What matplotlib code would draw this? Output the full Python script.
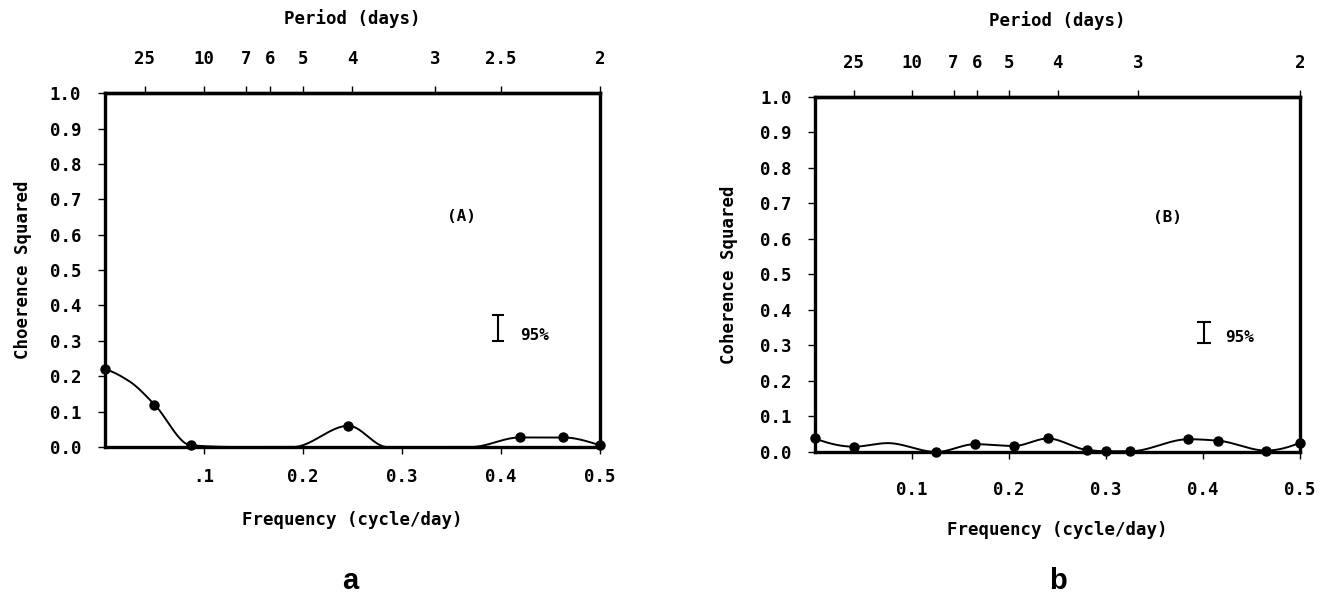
import matplotlib.pyplot as plt
import numpy as np

# -------------------------- data --------------------------
# (A): coherence estimates marked with dots
freq_a = [0.0, 0.05, 0.0865, 0.246, 0.419, 0.463, 0.5]
coh_a = [0.22, 0.12, 0.005, 0.06, 0.027, 0.027, 0.005]
# unmarked knots of the smoothed curve
knot_freq_a = [0.025, 0.13, 0.19, 0.285, 0.33, 0.37]
knot_coh_a = [0.185, 0.0, 0.0, 0.0, 0.0, 0.0]

# (B)
freq_b = [0.0, 0.04, 0.125, 0.165, 0.205, 0.24, 0.28, 0.30, 0.325,
          0.385, 0.415, 0.465, 0.5]
coh_b = [0.038, 0.015, 0.0, 0.022, 0.017, 0.038, 0.006, 0.002, 0.002,
         0.036, 0.032, 0.004, 0.026]
knot_freq_b = [0.075]
knot_coh_b = [0.025]

# 95% confidence bar (x, low, high)
ci_a = (0.397, 0.300, 0.372)
ci_b = (0.401, 0.308, 0.367)

periods_a = [25, 10, 7, 6, 5, 4, 3, 2.5, 2]
periods_b = [25, 10, 7, 6, 5, 4, 3, 2]
yticks = [0.0, 0.1, 0.2, 0.3, 0.4, 0.5, 0.6, 0.7, 0.8, 0.9, 1.0]
xticks = [0.1, 0.2, 0.3, 0.4, 0.5]
xlabels_a = ['.1', '0.2', '0.3', '0.4', '0.5']
xlabels_b = ['0.1', '0.2', '0.3', '0.4', '0.5']

MONO = 'DejaVu Sans Mono'
FS = 12.5


def _end_slope(h0, h1, d0, d1):
    d = ((2 * h0 + h1) * d0 - h0 * d1) / (h0 + h1)
    if np.sign(d) != np.sign(d0):
        return 0.0
    if np.sign(d0) != np.sign(d1) and abs(d) > abs(3 * d0):
        return 3 * d0
    return d


def pchip(x, y, xs):
    """shape preserving cubic through the knots"""
    x = np.asarray(x, float)
    y = np.asarray(y, float)
    h = np.diff(x)
    delta = np.diff(y) / h
    m = np.zeros_like(y)
    for k in range(1, len(x) - 1):
        if delta[k - 1] * delta[k] > 0:
            w1 = 2 * h[k] + h[k - 1]
            w2 = h[k] + 2 * h[k - 1]
            m[k] = (w1 + w2) / (w1 / delta[k - 1] + w2 / delta[k])
    m[0] = _end_slope(h[0], h[1], delta[0], delta[1])
    m[-1] = _end_slope(h[-1], h[-2], delta[-1], delta[-2])
    i = np.clip(np.searchsorted(x, xs) - 1, 0, len(x) - 2)
    t = (xs - x[i]) / h[i]
    return ((2 * t**3 - 3 * t**2 + 1) * y[i] + (t**3 - 2 * t**2 + t) * h[i] * m[i]
            + (-2 * t**3 + 3 * t**2) * y[i + 1] + (t**3 - t**2) * h[i] * m[i + 1])


def draw_panel(ax, f, c, kf, kc, ci, periods, xlabels, ylabel, tag, tag_xy,
               top_pad, title_pad, bottom_pad, xlabel_pad, ylabel_pad, cap):
    nodes = sorted(zip(list(f) + list(kf), list(c) + list(kc)))
    nx = np.array([n[0] for n in nodes])
    ny = np.array([n[1] for n in nodes])
    xs = np.linspace(0, 0.5, 600)
    ax.plot(xs, np.clip(pchip(nx, ny, xs), 0, None), color='black', lw=1.4,
            clip_on=False, zorder=3)
    ax.plot(f, c, 'o', color='black', ms=6.5, clip_on=False, zorder=4)

    ax.errorbar([ci[0]], [(ci[1] + ci[2]) / 2], yerr=[(ci[2] - ci[1]) / 2],
                color='black', lw=1.5, capsize=cap, capthick=1.5)
    ax.text(ci[0] + 0.022, ci[1] + 0.015, '95%', family=MONO, fontsize=FS - 1,
            fontweight='bold', va='center', ha='left')
    ax.text(tag_xy[0], tag_xy[1], tag, family=MONO, fontsize=FS - 1,
            fontweight='bold', ha='center', va='center')

    ax.set_xlim(0, 0.5)
    ax.set_ylim(0, 1.0)
    ax.set_xticks(xticks)
    ax.set_xticklabels(xlabels)
    ax.set_yticks(yticks)
    ax.set_yticklabels([f'{v:.1f}' for v in yticks])
    for sp in ax.spines.values():
        sp.set_linewidth(2.4)
    ax.tick_params(axis='both', length=5, width=1.0, labelsize=FS)
    ax.tick_params(axis='x', pad=bottom_pad)
    ax.tick_params(axis='y', pad=12)
    for lab in ax.get_xticklabels() + ax.get_yticklabels():
        lab.set_family(MONO)
        lab.set_fontweight('bold')
    ax.set_ylabel(ylabel, family=MONO, fontsize=FS, fontweight='bold',
                  labelpad=ylabel_pad)
    ax.set_xlabel('Frequency (cycle/day)', family=MONO, fontsize=FS,
                  fontweight='bold', labelpad=xlabel_pad)

    top = ax.secondary_xaxis('top')
    top.set_xticks([1.0 / p for p in periods])
    top.set_xticklabels([f'{p:g}' for p in periods], family=MONO, fontsize=FS,
                        fontweight='bold')
    top.tick_params(length=5, width=1.0, pad=top_pad)
    top.spines['top'].set_linewidth(2.4)
    top.set_xlabel('Period (days)', family=MONO, fontsize=FS, fontweight='bold',
                   labelpad=title_pad)


fig = plt.figure(figsize=(13.32, 6.08), dpi=100)
ax_a = fig.add_axes([0.0788, 0.2648, 0.3716, 0.582])
ax_b = fig.add_axes([0.6119, 0.2566, 0.3641, 0.584])

draw_panel(ax_a, freq_a, coh_a, knot_freq_a, knot_coh_a, ci_a, periods_a,
           xlabels_a, 'Choerence Squared', '(A)', (0.36, 0.65),
           top_pad=13, title_pad=19, bottom_pad=10, xlabel_pad=18,
           ylabel_pad=13, cap=4)
draw_panel(ax_b, freq_b, coh_b, knot_freq_b, knot_coh_b, ci_b, periods_b,
           xlabels_b, 'Coherence Squared', '(B)', (0.363, 0.66),
           top_pad=13, title_pad=20, bottom_pad=16, xlabel_pad=16,
           ylabel_pad=16, cap=5)

fig.text(0.263, 0.045, 'a', family='Liberation Sans', fontweight='bold',
         fontsize=21, ha='center', va='center')
fig.text(0.794, 0.045, 'b', family='Liberation Sans', fontweight='bold',
         fontsize=21, ha='center', va='center')

fig.savefig('out.png', dpi=100)
